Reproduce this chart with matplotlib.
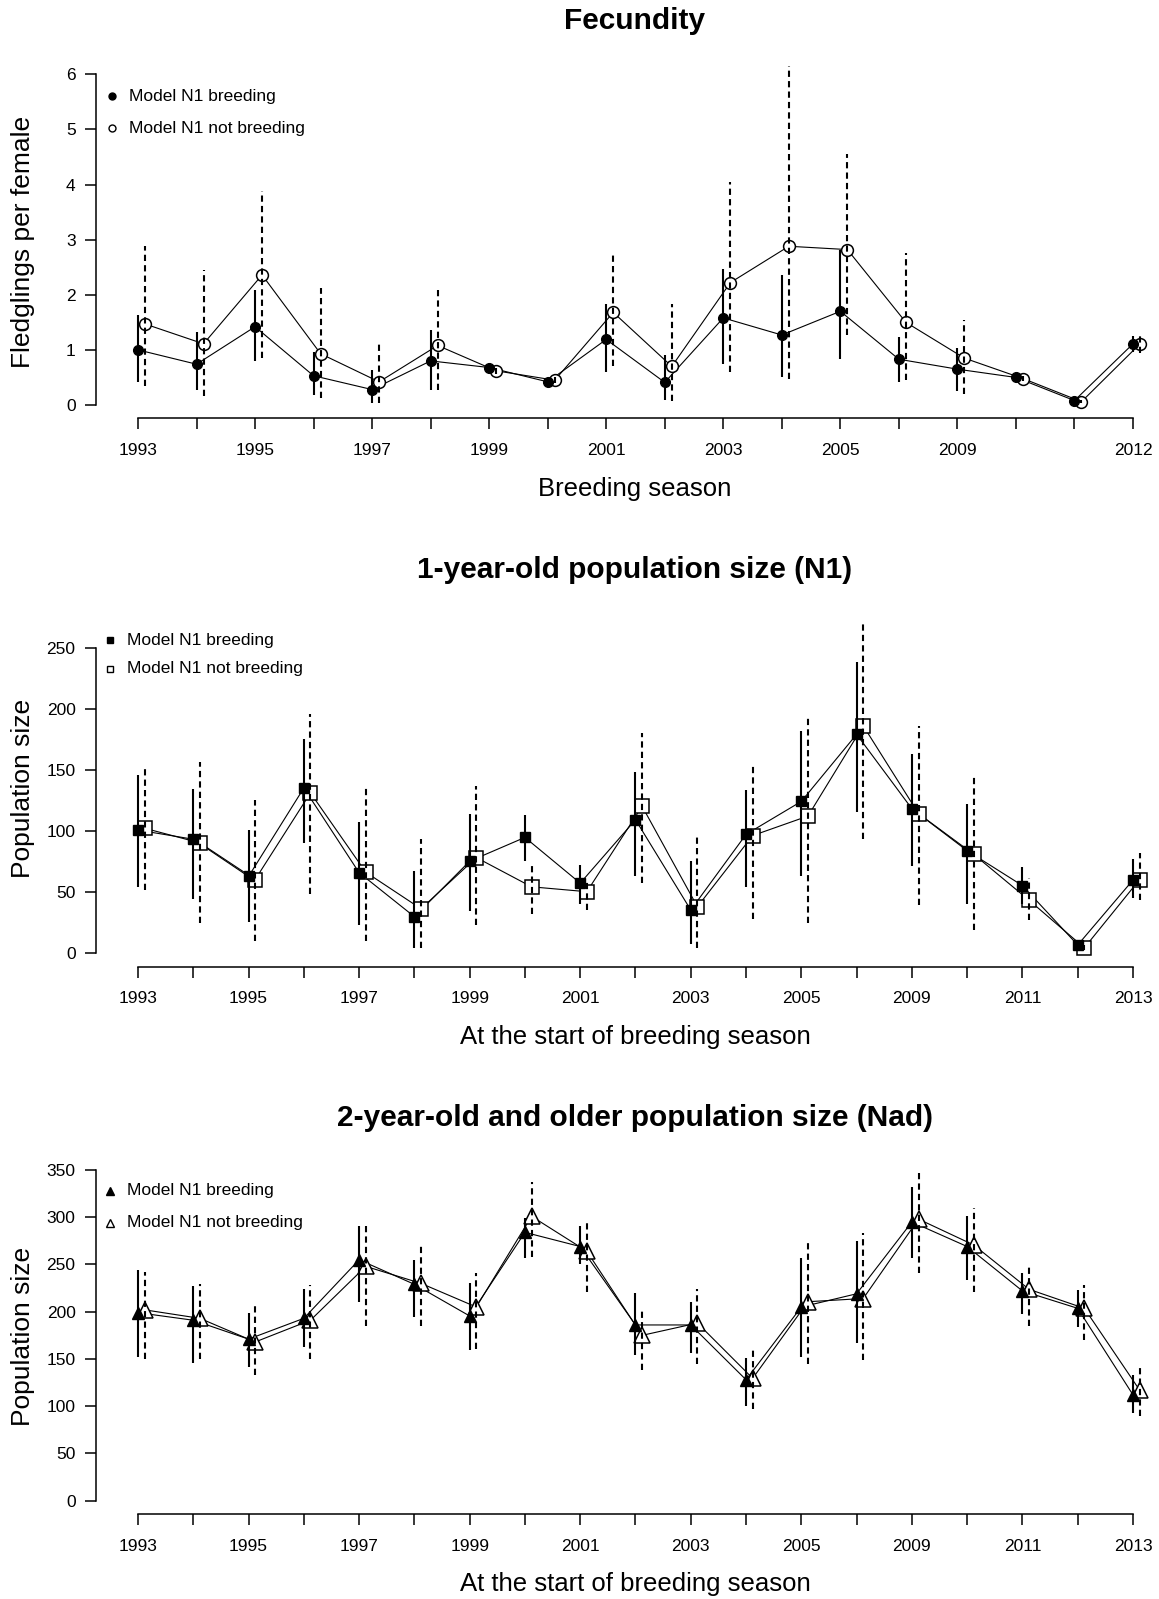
import numpy as np
import matplotlib
matplotlib.use("Agg")
import matplotlib.pyplot as plt
from matplotlib.lines import Line2D

plt.rcParams['font.family'] = ['Liberation Sans', 'DejaVu Sans']

# ─── Data ─────────────────────────────────────────────────────────────────────

fec_labels = ["1993", "", "1995", "", "1997", "", "1999", "", "2001", "",
              "2003", "", "2005", "", "2009", "", "", "2012"]
fec_breed    = [1.00, 0.74, 1.42, 0.53, 0.28, 0.80, 0.68, 0.42, 1.19, 0.41,
                1.58, 1.27, 1.70, 0.83, 0.65, 0.50, 0.08, 1.11]
fec_breed_lo = [0.42, 0.27, 0.80, 0.18, 0.03, 0.28, 0.62, 0.38, 0.59, 0.09,
                0.75, 0.50, 0.83, 0.42, 0.26, 0.46, 0.05, 0.97]
fec_breed_hi = [1.64, 1.32, 2.08, 0.97, 0.64, 1.36, 0.74, 0.47, 1.84, 0.91,
                2.47, 2.35, 2.82, 1.24, 1.03, 0.55, 0.11, 1.25]
fec_nonb     = [1.47, 1.11, 2.36, 0.93, 0.42, 1.08, 0.62, 0.45, 1.68, 0.70,
                2.22, 2.88, 2.82, 1.50, 0.85, 0.48, 0.06, 1.11]
fec_nonb_lo  = [0.35, 0.16, 0.85, 0.12, 0.04, 0.27, 0.56, 0.40, 0.71, 0.08,
                0.59, 0.48, 1.27, 0.45, 0.20, 0.43, 0.03, 0.94]
fec_nonb_hi  = [2.88, 2.45, 3.88, 2.12, 1.15, 2.12, 0.68, 0.50, 2.77, 1.84,
                4.04, 6.15, 4.56, 2.75, 1.55, 0.53, 0.09, 1.29]

pop_labels = ["1993", "", "1995", "", "1997", "", "1999", "", "2001", "",
              "2003", "", "2005", "", "2009", "", "2011", "", "2013"]

n1_breed    = [100.5, 93, 62.5, 135, 65.6, 29.5, 75, 94.5, 57, 109,
               35, 97, 124, 179, 118, 83.6, 55, 6.3, 59.6]
n1_breed_lo = [54, 44, 25, 90, 23, 4, 34, 75, 40, 63,
               7, 54, 63, 115.6, 71, 40, 40, 4, 44.5]
n1_breed_hi = [146, 134, 100.5, 175, 107, 67, 114, 113, 72, 148,
               75, 133, 182, 238, 163, 122, 70, 9, 76.5]
n1_nonb     = [102, 90, 60, 131, 66, 36, 78, 54, 50, 120,
               37.7, 96, 112, 186, 114, 80.6, 43, 4, 60]
n1_nonb_lo  = [51, 24, 10, 48, 10, 3.5, 23, 32, 35, 57,
               4, 28, 24, 93, 39, 18.6, 27, 2, 43]
n1_nonb_hi  = [152, 156, 125, 195.6, 136, 93, 137, 71, 59, 180,
               97, 153, 192.6, 272, 186, 144, 61.5, 6, 82]

nad_breed    = [199, 191, 171, 193, 255, 229, 195.5, 284, 269, 186,
                186, 128, 205, 219, 295, 269, 222, 203.6, 112]
nad_breed_lo = [152, 146, 142, 163, 210, 194, 159.5, 256.5, 250, 154,
                156.7, 100, 152, 166.5, 256.5, 234, 197.6, 184, 93]
nad_breed_hi = [244, 227, 199, 224, 291, 255, 230, 299, 291, 219.5,
                210.6, 151, 256.5, 275, 332, 301, 240.6, 223, 133]
nad_nonb     = [202, 193, 168, 191, 248, 230, 205, 301, 264, 175,
                188, 129.5, 210.6, 214, 298, 270.6, 223.7, 203.6, 117]
nad_nonb_lo  = [150, 150, 133, 150, 185, 185, 161, 258, 221, 138,
                145, 96.7, 145, 149, 240.6, 221, 185, 170, 89.6]
nad_nonb_hi  = [242, 229, 208, 228, 292, 272, 241, 337, 294, 202.5,
                223.7, 159.5, 276, 283, 347, 310, 249.5, 228, 140]

# ─── Layout helpers ───────────────────────────────────────────────────────────

W, H = 1159, 1599
fig = plt.figure(figsize=(W / 100, H / 100), dpi=100)
DASH = (0, (3, 2))
TITLE_FS, LABEL_FS, TICK_FS, LEG_FS = 21.5, 18.5, 12.5, 12.5


def place(ax, box, xa, ya):
    """Put axes at pixel box (l, t, r, b) and fit limits to pixel anchors."""
    l, t, r, b = box
    ax.set_position([l / W, 1 - b / H, (r - l) / W, (b - t) / H])
    (v0, p0), (v1, p1) = xa
    s = (p1 - p0) / (v1 - v0)
    ax.set_xlim(v0 + (l - p0) / s, v0 + (r - p0) / s)
    (u0, q0), (u1, q1) = ya
    s = (q1 - q0) / (u1 - u0)
    ax.set_ylim(u0 + (b - q0) / s, u0 + (t - q0) / s)


def draw(ax, breed, b_lo, b_hi, nonb, n_lo, n_hi, labels, yticks,
         m_fill, m_open, ms_fill, ms_open):
    x = np.arange(len(breed))
    xo = x + 0.12
    ax.plot(x, breed, color="black", lw=0.8, zorder=1)
    ax.plot(xo, nonb, color="black", lw=0.8, zorder=1)
    ax.plot(xo, nonb, ls="none", marker=m_open, ms=ms_open, mfc="white",
            mec="black", mew=1.1, zorder=2)
    ax.plot(x, breed, ls="none", marker=m_fill, ms=ms_fill, mfc="black",
            mec="black", zorder=3)
    ax.vlines(x, b_lo, b_hi, colors="black", lw=1.5, zorder=4)
    ax.vlines(xo, n_lo, n_hi, colors="black", lw=1.5, linestyles=[DASH], zorder=4)

    ax.set_xticks(x)
    ax.set_xticklabels(labels)
    ax.set_yticks(yticks)
    for s in ("top", "right"):
        ax.spines[s].set_visible(False)
    ax.spines["left"].set_bounds(yticks[0], yticks[-1])
    ax.spines["bottom"].set_bounds(0, len(breed) - 1)
    for s in ("left", "bottom"):
        ax.spines[s].set_linewidth(1.1)
    ax.tick_params(axis="both", length=7.7, width=1.1, labelsize=TICK_FS, direction="out")
    ax.tick_params(axis="x", pad=10)
    ax.tick_params(axis="y", pad=7)
    ax.patch.set_visible(False)


def legend(xm, y1, y2, m_fill, m_open, ms):
    fig.add_artist(Line2D([xm / W], [1 - y1 / H], marker=m_fill, ms=ms,
                          mfc="black", mec="black", ls="none"))
    fig.add_artist(Line2D([xm / W], [1 - y2 / H], marker=m_open, ms=ms,
                          mfc="none", mec="black", mew=1.0, ls="none"))
    fig.text((xm + 17) / W, 1 - y1 / H, "Model N1 breeding", fontsize=LEG_FS, va="center")
    fig.text((xm + 17) / W, 1 - y2 / H, "Model N1 not breeding", fontsize=LEG_FS, va="center")


# ─── Fecundity ────────────────────────────────────────────────────────────────

ax1 = fig.add_axes([0, 0, 1, 1])
draw(ax1, fec_breed, fec_breed_lo, fec_breed_hi, fec_nonb, fec_nonb_lo, fec_nonb_hi,
     fec_labels, [0, 1, 2, 3, 4, 5, 6], "o", "o", 7, 8.5)
place(ax1, (96, 55, 1159, 418), ((0, 138), (17, 1133)), ((0, 405), (6, 74.3)))
fig.text(635 / W, 1 - 21 / H, "Fecundity", fontsize=TITLE_FS, fontweight="bold",
         ha="center", va="center")
fig.text(635 / W, 1 - 489 / H, "Breeding season", fontsize=LABEL_FS, ha="center", va="center")
fig.text(23 / W, 1 - 242 / H, "Fledglings per female", fontsize=19, rotation=90,
         ha="center", va="center")
legend(112, 96, 128, "o", "o", 5)

# ─── N1 ───────────────────────────────────────────────────────────────────────

ax2 = fig.add_axes([0, 0, 1, 1])
draw(ax2, n1_breed, n1_breed_lo, n1_breed_hi, n1_nonb, n1_nonb_lo, n1_nonb_hi,
     pop_labels, [0, 50, 100, 150, 200, 250], "s", "s", 7.5, 10)
place(ax2, (96, 600, 1159, 966.5), ((0, 138), (18, 1133)), ((0, 952.7), (250, 647.7)))
fig.text(635 / W, 1 - 570 / H, "1-year-old population size (N1)", fontsize=TITLE_FS,
         fontweight="bold", ha="center", va="center")
fig.text(635 / W, 1 - 1037 / H, "At the start of breeding season", fontsize=LABEL_FS,
         ha="center", va="center")
fig.text(23 / W, 1 - 788 / H, "Population size", fontsize=19, rotation=90,
         ha="center", va="center")
legend(110, 640, 669, "s", "s", 5)

# ─── Nad ──────────────────────────────────────────────────────────────────────

ax3 = fig.add_axes([0, 0, 1, 1])
draw(ax3, nad_breed, nad_breed_lo, nad_breed_hi, nad_nonb, nad_nonb_lo, nad_nonb_hi,
     pop_labels, [0, 50, 100, 150, 200, 250, 300, 350], "^", "^", 9, 12)
place(ax3, (96, 1140, 1159, 1514), ((0, 138), (18, 1133)), ((0, 1500.7), (350, 1170)))
fig.text(635 / W, 1 - 1118 / H, "2-year-old and older population size (Nad)",
         fontsize=TITLE_FS, fontweight="bold", ha="center", va="center")
fig.text(635 / W, 1 - 1584 / H, "At the start of breeding season", fontsize=LABEL_FS,
         ha="center", va="center")
fig.text(23 / W, 1 - 1336 / H, "Population size", fontsize=19, rotation=90,
         ha="center", va="center")
legend(110, 1191, 1223, "^", "^", 5.5)

fig.savefig("out.png", dpi=100)
